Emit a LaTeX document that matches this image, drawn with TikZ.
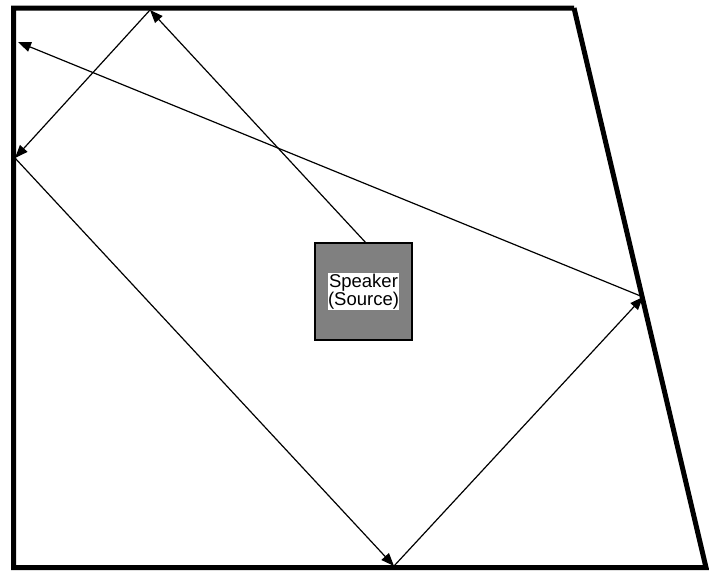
\documentclass[tikz,border=0pt]{standalone}
\usepackage{fontspec}
\setmainfont{Liberation Sans}
\usetikzlibrary{arrows.meta}
\begin{document}
\begin{tikzpicture}[x=1pt,y=-1pt,
  wall/.style={line width=5pt,line join=miter},
  ray/.style={line width=1.2pt,-{Triangle[length=13pt,width=10pt]}},
  spk/.style={draw=black,line width=1.2pt,fill=black!50,minimum width=97pt,minimum height=97pt,inner sep=0pt},
  lbl/.style={fill=white,inner sep=0.5pt,align=center,font=\fontsize{18.5}{17}\selectfont}]
\useasboundingbox (0,0) rectangle (709,571);
\coordinate (tl) at (13.5,8);
\coordinate (tr) at (574,8);
\coordinate (br) at (706,567.5);
\coordinate (bl) at (13.5,567.5);
\draw[wall] (tr) -- (tl) -- (bl) -- (br) -- (tr);
\node[spk] (speaker) at (363.5,291.5) {};
\node[lbl] (speakerlabel) at (speaker) {Speaker\\(Source)};
\coordinate (p1) at (150,10);
\coordinate (p2) at (15,158);
\coordinate (p3) at (394,566);
\coordinate (p4) at (643,297);
\coordinate (p5) at (18,42);
\draw[ray] (speaker.north) ++(2,0) -- (p1);
\draw[ray] (p1) -- (p2);
\draw[ray] (p2) -- (p3);
\draw[ray] (p3) -- (p4);
\draw[ray] (p4) -- (p5);
\end{tikzpicture}
\end{document}
